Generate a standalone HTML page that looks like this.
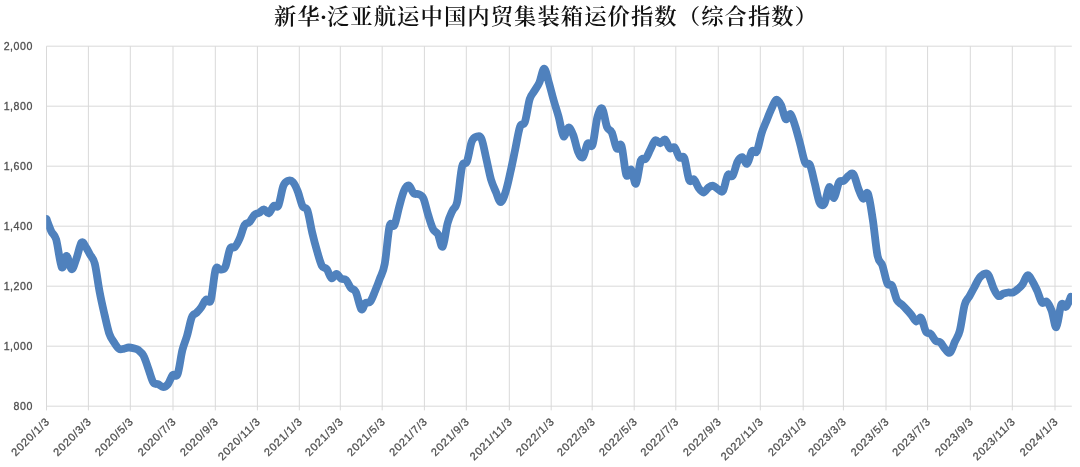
<!DOCTYPE html>
<html lang="zh-CN">
<head>
<meta charset="utf-8">
<title>新华·泛亚航运中国内贸集装箱运价指数（综合指数）</title>
<style>
html,body{margin:0;padding:0;background:#fff;}
body{width:1080px;height:467px;overflow:hidden;position:relative;}
#chart{will-change:transform;position:absolute;left:0;top:0;width:1080px;height:467px;}
#title .dot{margin-left:-1.1px;margin-right:-1.27px;}
#title{position:absolute;left:274px;top:0px;margin:0;white-space:nowrap;
 font-family:"Liberation Serif","Noto Serif CJK SC",serif;font-weight:600;font-size:22.3px;letter-spacing:1.09px;transform:scaleY(0.95);transform-origin:0 27px;line-height:34px;color:#111;}
svg{display:block}
</style>
</head>
<body>
<div id="chart">
<svg width="1080" height="467" viewBox="0 0 1080 467">
<g stroke="#d9d9d9" stroke-width="1" fill="none" shape-rendering="auto">
<line x1="46.5" y1="46.2" x2="1071.8" y2="46.2"/>
<line x1="46.5" y1="106.2" x2="1071.8" y2="106.2"/>
<line x1="46.5" y1="166.2" x2="1071.8" y2="166.2"/>
<line x1="46.5" y1="226.2" x2="1071.8" y2="226.2"/>
<line x1="46.5" y1="286.2" x2="1071.8" y2="286.2"/>
<line x1="46.5" y1="346.2" x2="1071.8" y2="346.2"/>
<line x1="46.5" y1="406.2" x2="1071.8" y2="406.2"/>
<line x1="46.5" y1="46.2" x2="46.5" y2="410.4"/>
<line x1="88.4" y1="46.2" x2="88.4" y2="410.4"/>
<line x1="130.3" y1="46.2" x2="130.3" y2="410.4"/>
<line x1="173.0" y1="46.2" x2="173.0" y2="410.4"/>
<line x1="215.3" y1="46.2" x2="215.3" y2="410.4"/>
<line x1="257.4" y1="46.2" x2="257.4" y2="410.4"/>
<line x1="299.3" y1="46.2" x2="299.3" y2="410.4"/>
<line x1="340.3" y1="46.2" x2="340.3" y2="410.4"/>
<line x1="382.2" y1="46.2" x2="382.2" y2="410.4"/>
<line x1="424.4" y1="46.2" x2="424.4" y2="410.4"/>
<line x1="466.3" y1="46.2" x2="466.3" y2="410.4"/>
<line x1="509.3" y1="46.2" x2="509.3" y2="410.4"/>
<line x1="551.2" y1="46.2" x2="551.2" y2="410.4"/>
<line x1="592.2" y1="46.2" x2="592.2" y2="410.4"/>
<line x1="634.2" y1="46.2" x2="634.2" y2="410.4"/>
<line x1="675.8" y1="46.2" x2="675.8" y2="410.4"/>
<line x1="718.3" y1="46.2" x2="718.3" y2="410.4"/>
<line x1="760.3" y1="46.2" x2="760.3" y2="410.4"/>
<line x1="803.2" y1="46.2" x2="803.2" y2="410.4"/>
<line x1="843.4" y1="46.2" x2="843.4" y2="410.4"/>
<line x1="886.0" y1="46.2" x2="886.0" y2="410.4"/>
<line x1="927.6" y1="46.2" x2="927.6" y2="410.4"/>
<line x1="970.3" y1="46.2" x2="970.3" y2="410.4"/>
<line x1="1012.3" y1="46.2" x2="1012.3" y2="410.4"/>
<line x1="1055.0" y1="46.2" x2="1055.0" y2="410.4"/>
</g>
<clipPath id="plotclip"><rect x="46.2" y="36.2" width="1025.8" height="380.0"/></clipPath>
<path clip-path="url(#plotclip)" d="M46.5,219.0C47.3,221.1 49.7,227.9 51.3,231.3C52.9,234.7 54.4,233.5 56.2,239.5C57.9,245.5 60.1,264.6 61.8,267.3C63.5,270.0 65.0,255.5 66.6,255.8C68.3,256.1 70.0,268.8 71.7,269.2C73.3,269.6 74.8,262.8 76.5,258.3C78.1,253.9 80.0,244.4 81.5,242.5C83.1,240.6 84.3,245.0 85.8,247.0C87.2,249.0 88.5,251.7 90.0,254.5C91.5,257.3 93.2,257.5 94.8,263.8C96.4,270.1 98.0,283.9 99.7,292.3C101.3,300.8 102.9,307.6 104.5,314.5C106.1,321.4 107.7,329.1 109.3,333.8C110.9,338.5 112.5,340.0 114.1,342.5C115.8,345.0 117.4,347.8 119.0,348.8C120.6,349.9 122.2,349.0 123.8,348.8C125.4,348.6 127.0,347.6 128.6,347.5C130.3,347.4 131.8,347.8 133.5,348.3C135.2,348.8 137.0,349.1 138.7,350.3C140.4,351.6 142.0,352.7 143.6,355.8C145.3,358.9 146.9,364.8 148.5,369.2C150.1,373.6 151.7,380.0 153.3,382.5C154.9,385.0 156.5,383.4 158.1,384.2C159.8,384.9 161.4,387.0 163.1,387.0C164.7,387.0 166.3,386.2 167.9,384.2C169.5,382.2 171.1,376.7 172.7,375.0C174.3,373.3 176.0,378.4 177.6,374.2C179.2,370.0 180.8,356.4 182.4,350.0C184.0,343.6 185.6,341.0 187.1,335.5C188.7,330.0 190.3,320.8 191.9,317.0C193.4,313.2 194.7,314.6 196.3,313.0C197.8,311.4 199.5,309.7 201.1,307.5C202.7,305.3 204.3,300.9 206.0,299.7C207.6,298.4 209.2,305.0 210.8,300.0C212.4,295.0 214.0,274.6 215.6,269.5C217.2,264.4 218.8,270.1 220.5,269.7C222.1,269.3 223.7,270.5 225.3,267.0C226.9,263.5 228.5,252.0 230.1,248.7C231.7,245.4 233.3,248.7 234.9,247.0C236.6,245.3 238.2,242.0 239.8,238.3C241.4,234.6 243.0,227.7 244.6,225.0C246.2,222.3 247.8,223.9 249.4,222.2C251.1,220.5 252.7,216.6 254.3,215.0C255.9,213.4 257.5,213.8 259.1,212.8C260.7,211.9 262.3,209.2 263.9,209.3C265.6,209.4 267.2,213.9 268.8,213.3C270.4,212.8 272.0,207.3 273.6,206.0C275.2,204.7 276.8,208.8 278.4,205.5C280.0,202.2 281.7,190.1 283.3,186.0C284.9,181.9 286.5,181.5 288.1,180.8C289.7,180.1 291.3,180.2 292.9,182.0C294.5,183.8 296.2,187.4 297.8,191.5C299.4,195.6 301.0,203.2 302.6,206.3C304.2,209.5 305.8,206.0 307.4,210.4C309.0,214.8 310.6,226.2 312.3,233.0C313.9,239.8 315.5,245.7 317.1,251.2C318.7,256.7 320.3,262.8 321.9,265.8C323.5,268.8 325.1,267.1 326.8,269.2C328.4,271.3 330.0,277.4 331.6,278.2C333.2,279.0 334.8,273.9 336.4,274.0C338.0,274.1 339.6,277.8 341.3,278.8C342.9,279.8 344.5,278.5 346.1,280.0C347.7,281.5 349.3,286.1 350.9,288.0C352.5,289.9 354.0,288.2 355.7,291.7C357.5,295.2 359.7,307.3 361.3,309.2C362.9,311.1 363.9,304.2 365.4,303.0C366.9,301.8 368.6,303.7 370.2,301.7C371.9,299.7 373.5,294.9 375.1,291.0C376.7,287.1 378.3,283.0 379.9,278.5C381.5,274.0 383.1,272.8 384.7,264.0C386.4,255.2 388.0,232.5 389.6,226.0C391.2,219.5 392.8,228.4 394.4,225.2C396.0,222.0 397.6,212.5 399.2,206.7C400.8,200.9 402.5,194.0 404.1,190.5C405.7,187.0 407.3,185.0 408.9,185.5C410.5,186.0 412.1,191.9 413.7,193.3C415.3,194.8 417.0,193.4 418.6,194.2C420.2,195.0 421.8,194.8 423.4,198.3C425.0,201.8 426.6,209.8 428.2,215.0C429.8,220.2 431.4,226.0 433.1,229.2C434.7,232.4 436.3,231.3 437.9,234.2C439.5,237.1 441.1,248.5 442.7,246.7C444.3,244.9 445.9,229.3 447.6,223.3C449.2,217.3 450.8,214.4 452.4,210.8C454.0,207.2 455.6,209.1 457.2,201.7C458.8,194.3 460.4,173.2 462.1,166.5C463.7,159.8 465.3,165.8 466.9,161.7C468.5,157.6 470.1,145.9 471.7,141.7C473.3,137.5 474.9,137.2 476.5,136.7C478.2,136.2 479.8,134.9 481.4,138.5C483.0,142.1 484.6,151.5 486.2,158.3C487.8,165.1 489.4,173.9 491.0,179.5C492.7,185.1 494.3,188.2 495.9,192.0C497.5,195.8 499.1,202.2 500.7,202.2C502.3,202.2 503.9,197.2 505.5,192.2C507.2,187.2 508.8,179.3 510.4,172.2C512.0,165.1 513.6,157.1 515.2,149.5C516.8,141.9 518.4,131.3 520.0,126.7C521.6,122.1 523.3,126.6 524.9,122.0C526.5,117.4 528.1,104.4 529.7,99.2C531.3,94.0 532.9,93.6 534.5,90.8C536.1,88.0 537.8,86.2 539.4,82.5C541.0,78.8 542.6,68.6 544.2,68.7C545.8,68.8 547.4,77.6 549.0,83.0C550.6,88.4 552.2,95.3 553.9,101.0C555.5,106.7 557.1,111.1 558.7,117.0C560.3,122.9 561.9,134.6 563.5,136.3C565.1,138.1 566.7,127.7 568.4,127.5C570.0,127.3 571.6,131.0 573.2,135.0C574.8,139.0 576.4,148.0 578.0,151.7C579.6,155.4 581.2,158.6 582.9,157.2C584.5,155.8 586.1,145.5 587.7,143.5C589.3,141.5 590.9,149.3 592.5,145.0C594.1,140.7 595.7,123.6 597.3,117.5C599.0,111.4 600.6,106.9 602.2,108.5C603.8,110.1 605.4,123.0 607.0,127.0C608.6,131.0 610.2,128.9 611.8,132.5C613.5,136.1 615.1,146.3 616.7,148.5C618.3,150.7 619.9,141.4 621.5,145.8C623.1,150.2 624.7,171.0 626.3,175.0C628.0,179.0 629.6,168.2 631.2,169.7C632.8,171.1 634.4,185.2 636.0,183.7C637.6,182.2 639.2,164.7 640.8,160.5C642.4,156.3 644.1,160.7 645.7,158.8C647.3,156.9 648.9,152.3 650.5,149.2C652.1,146.1 653.7,141.3 655.3,140.3C656.9,139.3 658.6,143.4 660.2,143.3C661.8,143.2 663.4,138.7 665.0,139.5C666.6,140.3 668.2,147.0 669.8,148.3C671.4,149.6 673.0,146.0 674.7,147.5C676.3,149.0 677.9,155.8 679.5,157.5C681.1,159.2 682.7,154.2 684.3,158.0C685.9,161.8 687.5,176.4 689.2,180.0C690.8,183.6 692.4,178.1 694.0,179.5C695.6,180.9 697.2,186.1 698.8,188.3C700.4,190.5 702.0,192.6 703.7,192.5C705.3,192.4 706.9,188.6 708.5,187.5C710.1,186.4 711.7,185.5 713.3,185.8C714.9,186.1 716.5,188.4 718.1,189.2C719.8,190.0 721.4,193.2 723.0,190.8C724.6,188.4 726.2,177.5 727.8,175.0C729.4,172.5 731.0,178.0 732.6,175.8C734.3,173.6 735.9,164.8 737.5,161.7C739.1,158.6 740.7,156.9 742.3,157.2C743.9,157.5 745.5,164.7 747.1,163.7C748.8,162.7 750.4,153.3 752.0,151.2C753.6,149.1 755.2,154.3 756.8,151.3C758.4,148.3 760.0,138.4 761.6,133.3C763.2,128.2 764.9,124.8 766.5,120.8C768.1,116.8 769.7,112.7 771.3,109.2C772.9,105.7 774.5,100.4 776.1,99.7C777.7,99.0 779.4,101.8 781.0,105.0C782.6,108.2 784.2,117.7 785.8,119.2C787.4,120.7 789.0,112.9 790.6,114.2C792.2,115.5 793.8,122.0 795.5,127.0C797.1,132.1 798.7,138.6 800.3,144.5C801.9,150.4 803.5,159.1 805.1,162.5C806.7,165.9 808.3,161.5 810.0,165.0C811.6,168.5 813.2,177.2 814.8,183.5C816.4,189.8 818.0,199.2 819.6,202.5C821.2,205.8 822.8,206.1 824.5,203.5C826.1,200.9 827.7,187.9 829.3,187.0C830.9,186.1 832.5,198.8 834.1,198.0C835.7,197.2 837.3,185.4 838.9,182.5C840.6,179.6 842.2,181.9 843.8,180.8C845.4,179.7 847.0,176.9 848.6,175.8C850.2,174.7 851.8,172.1 853.4,174.2C855.1,176.3 856.7,184.2 858.3,188.3C859.9,192.4 861.5,197.8 863.1,198.7C864.7,199.6 866.3,190.0 867.9,193.5C869.6,197.0 871.2,209.3 872.8,219.7C874.4,230.1 876.0,248.4 877.6,256.0C879.2,263.6 880.8,260.9 882.4,265.5C884.0,270.1 885.7,279.9 887.3,283.3C888.9,286.7 890.5,283.0 892.1,285.8C893.7,288.6 895.3,296.9 896.9,300.0C898.5,303.1 900.2,303.0 901.8,304.6C903.4,306.2 905.0,307.8 906.6,309.5C908.2,311.2 909.8,313.0 911.4,315.0C913.0,317.0 914.6,321.0 916.3,321.5C917.9,322.0 919.5,316.3 921.1,318.0C922.7,319.7 924.3,328.8 925.9,331.5C927.5,334.2 929.1,332.4 930.8,334.0C932.4,335.6 934.0,339.4 935.6,340.8C937.2,342.2 938.8,341.1 940.4,342.5C942.0,343.9 943.6,347.5 945.3,349.2C946.9,350.9 948.5,353.8 950.1,352.5C951.7,351.2 953.3,345.3 954.9,341.7C956.5,338.1 958.1,337.1 959.7,331.0C961.4,324.9 963.0,310.8 964.6,305.0C966.2,299.2 967.8,299.2 969.4,296.3C971.0,293.4 972.6,290.5 974.2,287.5C975.9,284.5 977.3,280.6 979.1,278.3C980.8,276.0 983.1,274.2 984.7,273.7C986.3,273.2 987.3,273.1 988.7,275.5C990.2,277.9 992.0,284.9 993.6,288.3C995.2,291.7 996.8,295.1 998.4,296.0C1000.0,296.9 1001.6,294.3 1003.2,293.7C1004.8,293.1 1006.5,292.7 1008.1,292.5C1009.7,292.3 1011.3,293.1 1012.9,292.5C1014.5,291.9 1016.1,290.6 1017.7,289.2C1019.3,287.8 1021.0,286.5 1022.6,284.2C1024.2,281.9 1025.8,275.9 1027.4,275.3C1029.0,274.7 1030.6,278.3 1032.2,280.8C1033.8,283.3 1035.4,286.9 1037.1,290.5C1038.7,294.1 1040.3,300.6 1041.9,302.5C1043.5,304.4 1045.1,300.4 1046.7,301.7C1048.3,303.0 1049.9,306.2 1051.6,310.5C1053.2,314.8 1054.8,328.3 1056.4,327.3C1058.0,326.3 1059.6,308.1 1061.2,304.7C1062.8,301.3 1064.4,308.0 1066.1,306.7C1067.7,305.4 1070.1,298.4 1070.9,296.7" fill="none" stroke="#4f81bd" stroke-width="7.8" stroke-linejoin="round" stroke-linecap="round"/>
<g font-family="'Liberation Sans', sans-serif" font-size="11.2" fill="#505050" stroke="#505050" stroke-width="0.3">
<text x="32.9" y="50.1" text-anchor="end" font-size="10.6" letter-spacing="0.55">2,000</text>
<text x="32.9" y="110.1" text-anchor="end" font-size="10.6" letter-spacing="0.55">1,800</text>
<text x="32.9" y="170.1" text-anchor="end" font-size="10.6" letter-spacing="0.55">1,600</text>
<text x="32.9" y="230.1" text-anchor="end" font-size="10.6" letter-spacing="0.55">1,400</text>
<text x="32.9" y="290.1" text-anchor="end" font-size="10.6" letter-spacing="0.55">1,200</text>
<text x="32.9" y="350.1" text-anchor="end" font-size="10.6" letter-spacing="0.55">1,000</text>
<text x="32.9" y="410.1" text-anchor="end" font-size="10.6" letter-spacing="0.55">800</text>
<text transform="translate(50.3,422.1) rotate(-45)" text-anchor="end" font-size="11" letter-spacing="0.75">2020/1/3</text>
<text transform="translate(92.2,422.1) rotate(-45)" text-anchor="end" font-size="11" letter-spacing="0.75">2020/3/3</text>
<text transform="translate(134.1,422.1) rotate(-45)" text-anchor="end" font-size="11" letter-spacing="0.75">2020/5/3</text>
<text transform="translate(176.8,422.1) rotate(-45)" text-anchor="end" font-size="11" letter-spacing="0.75">2020/7/3</text>
<text transform="translate(219.1,422.1) rotate(-45)" text-anchor="end" font-size="11" letter-spacing="0.75">2020/9/3</text>
<text transform="translate(261.2,422.1) rotate(-45)" text-anchor="end" font-size="11" letter-spacing="0.75">2020/11/3</text>
<text transform="translate(303.1,422.1) rotate(-45)" text-anchor="end" font-size="11" letter-spacing="0.75">2021/1/3</text>
<text transform="translate(344.1,422.1) rotate(-45)" text-anchor="end" font-size="11" letter-spacing="0.75">2021/3/3</text>
<text transform="translate(386.0,422.1) rotate(-45)" text-anchor="end" font-size="11" letter-spacing="0.75">2021/5/3</text>
<text transform="translate(428.2,422.1) rotate(-45)" text-anchor="end" font-size="11" letter-spacing="0.75">2021/7/3</text>
<text transform="translate(470.1,422.1) rotate(-45)" text-anchor="end" font-size="11" letter-spacing="0.75">2021/9/3</text>
<text transform="translate(513.1,422.1) rotate(-45)" text-anchor="end" font-size="11" letter-spacing="0.75">2021/11/3</text>
<text transform="translate(555.0,422.1) rotate(-45)" text-anchor="end" font-size="11" letter-spacing="0.75">2022/1/3</text>
<text transform="translate(596.0,422.1) rotate(-45)" text-anchor="end" font-size="11" letter-spacing="0.75">2022/3/3</text>
<text transform="translate(638.0,422.1) rotate(-45)" text-anchor="end" font-size="11" letter-spacing="0.75">2022/5/3</text>
<text transform="translate(679.6,422.1) rotate(-45)" text-anchor="end" font-size="11" letter-spacing="0.75">2022/7/3</text>
<text transform="translate(722.1,422.1) rotate(-45)" text-anchor="end" font-size="11" letter-spacing="0.75">2022/9/3</text>
<text transform="translate(764.1,422.1) rotate(-45)" text-anchor="end" font-size="11" letter-spacing="0.75">2022/11/3</text>
<text transform="translate(807.0,422.1) rotate(-45)" text-anchor="end" font-size="11" letter-spacing="0.75">2023/1/3</text>
<text transform="translate(847.2,422.1) rotate(-45)" text-anchor="end" font-size="11" letter-spacing="0.75">2023/3/3</text>
<text transform="translate(889.8,422.1) rotate(-45)" text-anchor="end" font-size="11" letter-spacing="0.75">2023/5/3</text>
<text transform="translate(931.4,422.1) rotate(-45)" text-anchor="end" font-size="11" letter-spacing="0.75">2023/7/3</text>
<text transform="translate(974.1,422.1) rotate(-45)" text-anchor="end" font-size="11" letter-spacing="0.75">2023/9/3</text>
<text transform="translate(1016.1,422.1) rotate(-45)" text-anchor="end" font-size="11" letter-spacing="0.75">2023/11/3</text>
<text transform="translate(1058.8,422.1) rotate(-45)" text-anchor="end" font-size="11" letter-spacing="0.75">2024/1/3</text>
</g>
</svg>
</div>
<h1 id="title">新华<span class="dot">·</span>泛亚航运中国内贸集装箱运价指数（综合指数）</h1>
</body>
</html>
